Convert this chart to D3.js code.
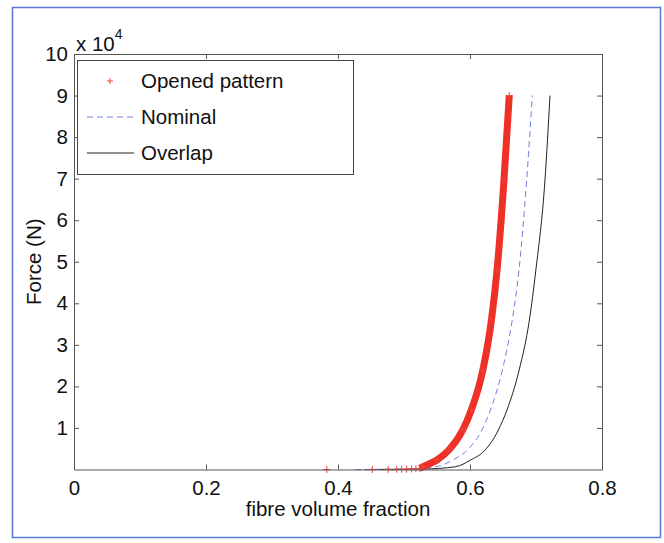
<!DOCTYPE html>
<html>
<head>
<meta charset="utf-8">
<script src="https://cdn.jsdelivr.net/npm/d3@7.9.0/dist/d3.min.js"></script>
<style>
  body { margin: 0; background: #fff; }
  text { font-family: "Liberation Sans", Arial, sans-serif; }
</style>
</head>
<body>
<svg id="chart" width="664" height="543"></svg>
<script>
// values (x: fibre volume fraction, y: force in N)
const openedVf = [0.383, 0.452, 0.476, 0.489, 0.4965, 0.504, 0.5115, 0.518, 0.524,
  0.529, 0.550, 0.568, 0.589, 0.602, 0.6195, 0.6325, 0.641, 0.6515, 0.6595];
const openedF = [0, 0, 20, 40, 60, 90, 130, 180, 250,
  670, 2290, 4690, 9510, 14320, 23950, 35990, 48020, 69680, 90000];

const nominalVf = [0.426, 0.50, 0.548, 0.574, 0.596, 0.618, 0.631, 0.649, 0.664, 0.6742, 0.6859, 0.6944];
const nominalF = [0, 120, 670, 2290, 4690, 9510, 14320, 23950, 35990, 48020, 69680, 90000];

const overlapVf = [0.44, 0.53, 0.578, 0.601, 0.623, 0.643, 0.656, 0.6745, 0.690, 0.6998, 0.7136, 0.7212];
const overlapF = [0, 120, 670, 2290, 4690, 9510, 14320, 23950, 35990, 48020, 69680, 90000];

const xTicks = [0, 0.2, 0.4, 0.6, 0.8];
const yTicks = [10000, 20000, 30000, 40000, 50000, 60000, 70000, 80000, 90000, 100000];
const legendLabels = ['Opened pattern', 'Nominal', 'Overlap'];

const svg = d3.select('#chart');
const plotL = 74, plotR = 602, plotT = 54, plotB = 469.5;
const fs = '20.5px';

// outer frame
svg.append('rect')
  .attr('x', 12.5).attr('y', 7.5)
  .attr('width', 648).attr('height', 530)
  .attr('fill', 'none')
  .attr('stroke', '#5a78d8')
  .attr('stroke-width', 1.5);

const x = d3.scaleLinear().domain([0, 0.8]).range([plotL, plotR]);
const y = d3.scaleLinear().domain([0, 100000]).range([plotB, plotT]);

const zip = (a, b) => a.map((v, i) => [v, b[i]]);
const opened = zip(openedVf, openedF);
const nominal = zip(nominalVf, nominalF);
const overlap = zip(overlapVf, overlapF);

const line = d3.line()
  .x(d => x(d[0]))
  .y(d => y(d[1]))
  .curve(d3.curveMonotoneX);

const plot = svg.append('g');

plot.append('path')
  .attr('d', line(overlap))
  .attr('fill', 'none')
  .attr('stroke', '#222')
  .attr('stroke-width', 1);

plot.append('path')
  .attr('d', line(nominal))
  .attr('fill', 'none')
  .attr('stroke', '#6f80e2')
  .attr('stroke-width', 1)
  .attr('stroke-dasharray', '6,4');

// the opened-pattern markers are so dense on the steep part that they fuse into a band
plot.append('path')
  .attr('d', line(opened.filter(d => d[0] >= 0.524)))
  .attr('fill', 'none')
  .attr('stroke', '#ee3026')
  .attr('stroke-width', 7);

const ms = 3.5;
plot.selectAll('path.marker')
  .data(opened)
  .join('path')
  .attr('class', 'marker')
  .attr('d', d => {
    const cx = x(d[0]), cy = y(d[1]);
    return `M${cx - ms},${cy}H${cx + ms}M${cx},${cy - ms}V${cy + ms}`;
  })
  .attr('stroke', '#f0453c')
  .attr('stroke-width', 1);

// axes (ticks point inward, box on)
const axisColor = '#555';
const fmtX = d => d === 0 ? '0' : d3.format('.1f')(d);

const gx = svg.append('g')
  .attr('transform', `translate(0,${plotB})`)
  .call(d3.axisBottom(x).tickValues(xTicks).tickSizeInner(-5).tickSizeOuter(0).tickFormat(fmtX));
const gxTop = svg.append('g')
  .attr('transform', `translate(0,${plotT})`)
  .call(d3.axisTop(x).tickValues(xTicks).tickSizeInner(-5).tickSizeOuter(0).tickFormat(''));
const gy = svg.append('g')
  .attr('transform', `translate(${plotL},0)`)
  .call(d3.axisLeft(y).tickValues(yTicks).tickSizeInner(-5).tickSizeOuter(0).tickPadding(6).tickFormat(d => d / 1e4));
const gyRight = svg.append('g')
  .attr('transform', `translate(${plotR},0)`)
  .call(d3.axisRight(y).tickValues(yTicks).tickSizeInner(-5).tickSizeOuter(0).tickFormat(''));

[gx, gxTop, gy, gyRight].forEach(g => {
  g.select('.domain').attr('stroke', axisColor);
  g.selectAll('.tick line').attr('stroke', axisColor);
  g.selectAll('.tick text')
    .attr('fill', '#111')
    .style('font-size', fs)
    .style('font-family', '"Liberation Sans", Arial, sans-serif');
});
gx.selectAll('.tick text').attr('y', 25).attr('dy', 0);

// exponent label
const expo = svg.append('text')
  .attr('x', 76).attr('y', 51)
  .attr('fill', '#111')
  .style('font-size', fs);
expo.append('tspan').text('x 10');
expo.append('tspan').attr('dy', -12).style('font-size', '14px').text('4');

// axis titles
svg.append('text')
  .attr('x', 338).attr('y', 516)
  .attr('text-anchor', 'middle')
  .attr('fill', '#111')
  .style('font-size', fs)
  .text('fibre volume fraction');

svg.append('text')
  .attr('transform', `translate(41,${(plotT + plotB) / 2}) rotate(-90)`)
  .attr('text-anchor', 'middle')
  .attr('fill', '#111')
  .style('font-size', fs)
  .text('Force (N)');

// legend
const lg = svg.append('g');
lg.append('rect')
  .attr('x', 77.5).attr('y', 60.5)
  .attr('width', 276).attr('height', 114)
  .attr('fill', '#fff')
  .attr('stroke', '#444')
  .attr('stroke-width', 1);

const rowY = [81, 117, 153];
lg.append('path')
  .attr('d', `M${110 - 3},${rowY[0]}H${110 + 3}M110,${rowY[0] - 3}V${rowY[0] + 3}`)
  .attr('stroke', '#f0453c')
  .attr('stroke-width', 1);
lg.append('line')
  .attr('x1', 87).attr('x2', 134).attr('y1', rowY[1]).attr('y2', rowY[1])
  .attr('stroke', '#6f80e2').attr('stroke-dasharray', '6,4');
lg.append('line')
  .attr('x1', 87).attr('x2', 134).attr('y1', rowY[2]).attr('y2', rowY[2])
  .attr('stroke', '#222');

lg.selectAll('text.lbl')
  .data(legendLabels)
  .join('text')
  .attr('class', 'lbl')
  .attr('x', 141)
  .attr('y', (d, i) => rowY[i])
  .attr('dy', '0.36em')
  .attr('fill', '#111')
  .style('font-size', fs)
  .text(d => d);
</script>
</body>
</html>
